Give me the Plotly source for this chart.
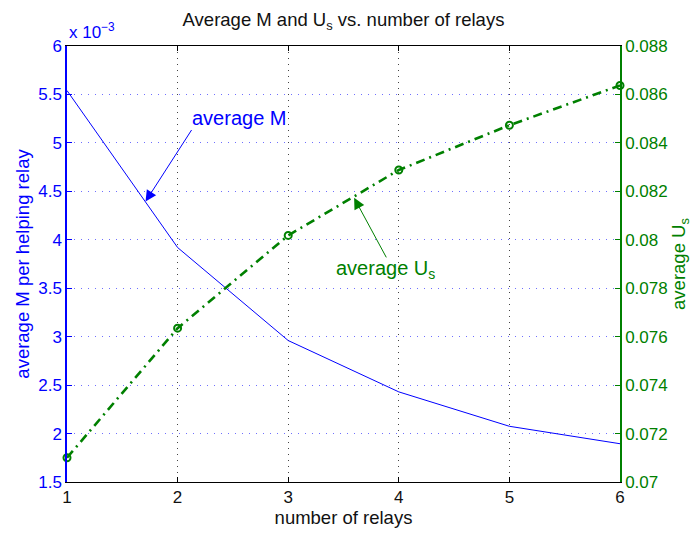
import plotly.graph_objects as go

relays = [1, 2, 3, 4, 5, 6]
avg_M_e3 = [5.54, 3.92, 2.96, 2.43, 2.075, 1.895]   # x 10^-3
avg_Us = [0.0710, 0.07635, 0.08018, 0.08288, 0.08473, 0.08637]

x_ticks = [1, 2, 3, 4, 5, 6]
left_range = [1.5, 6]
right_range = [0.07, 0.088]

BLUE = "#0000ff"
GREEN = "#008000"
FONT = "Liberation Sans, Arial, sans-serif"
TICK = 17
LAB = 18.5

fig = go.Figure()
fig.add_trace(go.Scatter(
    x=relays, y=avg_M_e3, mode="lines",
    line=dict(color=BLUE, width=1), yaxis="y", showlegend=False))
fig.add_trace(go.Scatter(
    x=relays, y=avg_Us, mode="lines+markers",
    line=dict(color=GREEN, width=2.6, dash="9px,5px,2px,5px"),
    marker=dict(symbol="circle-open", size=7, color=GREEN, line=dict(width=2, color=GREEN)),
    yaxis="y2", showlegend=False, cliponaxis=False))

fig.update_layout(
    width=693, height=535,
    margin=dict(l=67, r=70, t=46, b=49),
    paper_bgcolor="white", plot_bgcolor="white",
    font=dict(family=FONT, size=TICK, color="black"),
    title=dict(text="Average M and U<sub>s</sub> vs. number of relays",
               x=0.5, xref="paper", xanchor="center", y=0.964, yanchor="middle",
               font=dict(size=LAB, color="#111111")),
    xaxis=dict(range=[1, 6], tickvals=x_ticks, ticks="inside", ticklen=5,
               tickcolor="black", showline=True, linecolor="black", linewidth=1,
               mirror="ticks", showgrid=True, gridcolor="#444444", griddash="1px,5px",
               gridwidth=1, zeroline=False,
               title=dict(text="number of relays", standoff=3, font=dict(size=LAB, color="#111111")),
               tickfont=dict(size=TICK, color="#111111")),
    yaxis=dict(range=left_range, dtick=0.5, tick0=1.5, ticks="inside", ticklen=5,
               tickcolor=BLUE, showline=True, linecolor=BLUE, linewidth=1.5,
               showgrid=True, gridcolor="#6f6fff", griddash="1px,6px", gridwidth=1,
               zeroline=False, tickfont=dict(size=TICK, color=BLUE),
               title=dict(text="average M per helping relay", standoff=4,
                          font=dict(size=LAB, color=BLUE))),
    yaxis2=dict(range=right_range, dtick=0.002, tick0=0.07, overlaying="y", side="right",
                ticks="inside", ticklen=5, tickcolor=GREEN, showline=True,
                linecolor=GREEN, linewidth=1.5, showgrid=False, zeroline=False,
                tickfont=dict(size=TICK, color=GREEN),
                title=dict(text="average U<sub>s</sub>", standoff=0,
                           font=dict(size=LAB, color=GREEN))),
)

annotations = [
    dict(text="x 10<sup>−3</sup>", xref="paper", yref="paper", x=0, y=1.0,
         xanchor="left", yanchor="bottom", yshift=2, showarrow=False,
         font=dict(size=TICK, color=BLUE)),
    dict(text="average M", xref="x", yref="y", x=1.71, y=4.395,
         showarrow=False, xshift=94, yshift=84,
         font=dict(size=20, color=BLUE)),
    dict(text="", xref="x", yref="y", x=1.71, y=4.395, ax=47, ay=-73,
         showarrow=True, arrowhead=2, arrowsize=2.2, arrowwidth=1, arrowcolor=BLUE),
    dict(text="average U<sub>s</sub>", xref="x", yref="y2", x=3.596, y=0.08173,
         showarrow=False, xshift=31, yshift=-72,
         font=dict(size=20, color=GREEN)),
    dict(text="", xref="x", yref="y2", x=3.596, y=0.08173, ax=33, ay=61,
         showarrow=True, arrowhead=2, arrowsize=2.2, arrowwidth=1, arrowcolor=GREEN),
]
fig.update_layout(annotations=annotations)

fig.write_html("out.html")
